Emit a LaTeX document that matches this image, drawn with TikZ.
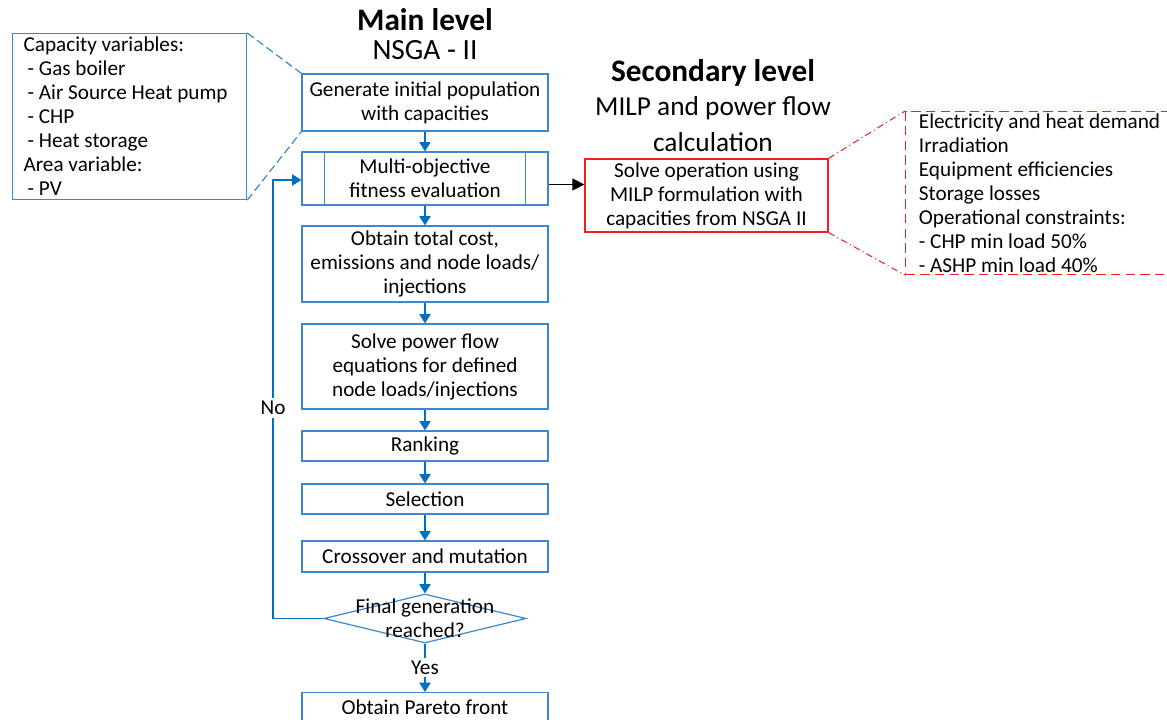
\documentclass[tikz,border=0pt]{standalone}
\usepackage{fontspec}
\setmainfont{Carlito}
\usetikzlibrary{shapes.geometric,arrows.meta}
\definecolor{boxblue}{RGB}{60,135,205}
\definecolor{flowblue}{RGB}{0,112,192}
\definecolor{solvered}{RGB}{240,30,30}
\newcommand{\boxfont}{\fontsize{15.9}{18}\selectfont}

\tikzset{
	box/.style={draw=boxblue, line width=0.9pt, minimum width=184.5pt, align=center, inner sep=2pt, font=\boxfont},
	decision/.style={diamond, draw=boxblue, line width=0.9pt, minimum width=151.5pt, minimum height=36.75pt, inner sep=0pt},
	note/.style={draw=boxblue, line width=0.9pt, minimum width=175.5pt, minimum height=124.5pt, text width=159pt, inner xsep=8pt, inner ysep=2pt, align=flush left, font=\boxfont},
	solve/.style={draw=solvered, line width=0.9pt, minimum width=182.25pt, minimum height=54.75pt, align=center, inner sep=2pt, font=\boxfont},
	inputs/.style={draw=solvered, dash pattern=on 7pt off 4pt, line width=0.9pt, minimum width=225pt, minimum height=122.25pt, text width=205pt, inner xsep=5.5pt, inner ysep=1pt, align=flush left, font=\boxfont},
	title/.style={font=\fontsize{23.5}{26}\selectfont\bfseries, inner sep=0pt},
	sub/.style={font=\fontsize{20.5}{27}\selectfont, align=center, inner sep=0pt},
	flow/.style={draw=flowblue, line width=0.9pt, -{Triangle[width=8.5pt,length=7pt]}},
	link/.style={draw=black, line width=0.9pt, -{Triangle[width=9pt,length=9pt]}},
	lbl/.style={fill=white, inner sep=2pt, font=\boxfont},
}

\begin{document}
\begin{tikzpicture}[x=0.75pt, y=-0.75pt]
		%%%%% START %%%%%
		\useasboundingbox (0,0) rectangle (1167,720);
		\clip (0,0) rectangle (1167,720);
		
		% main level
		\node[title] (mainlvl) at (425,20) {Main level};
		\node[sub, font=\fontsize{22}{27}\selectfont] (nsga) at (425,50) {NSGA - II};
		
		\node[box, minimum height=42.75pt] (init) at (425,102.5) {Generate initial population\\with capacities};
		\node[box, minimum height=39.75pt] (fit) at (425,178.5) {Multi-objective\\fitness evaluation};
		\draw[draw=boxblue, line width=0.9pt] ([xshift=17.25pt]fit.north west) -- ([xshift=17.25pt]fit.south west);
		\draw[draw=boxblue, line width=0.9pt] ([xshift=-17.25pt]fit.north east) -- ([xshift=-17.25pt]fit.south east);
		\node[box, minimum height=57pt] (cost) at (425,264) {Obtain total cost,\\emissions and node loads/\\injections};
		\node[box, minimum height=63.75pt] (pf) at (425,366.5) {Solve power flow\\equations for defined\\node loads/injections};
		\node[box, minimum height=22.5pt] (rank) at (425,446) {Ranking};
		\node[box, minimum height=22.5pt] (sel) at (425,499) {Selection};
		\node[box, minimum height=23.25pt] (cross) at (425,556.5) {Crossover and mutation};
		\node[decision] (final) at (425,618.5) {};
		\node[font=\boxfont, align=center, inner sep=0pt] (finaltxt) at (final) {Final generation\\reached?};
		\node[box, minimum height=22.5pt, anchor=north] (pareto) at (425,692) {Obtain Pareto front};
		\coordinate (back) at (273,180);
		
		% decision variables
		\node[note, anchor=north west] (caps) at (12,33) {Capacity variables:\\
			\hspace*{3pt}- Gas boiler\\
			\hspace*{3pt}- Air Source Heat pump\\
			\hspace*{3pt}- CHP\\
			\hspace*{3pt}- Heat storage\\
			Area variable:\\
			\hspace*{3pt}- PV};
		\draw[boxblue, line width=0.9pt, dash pattern=on 6pt off 3pt] (caps.north east) -- (init.north west);
		\draw[boxblue, line width=0.9pt, dash pattern=on 6pt off 3pt] (caps.south east) -- (init.south west);
		
		% secondary level
		\node[title] (seclvl) at (713,73) {Secondary level};
		\node[sub] (milpsub) at (713,124) {MILP and power flow\\calculation};
		\node[solve] (milp) at (706.5,195.5) {Solve operation using\\MILP formulation with\\capacities from NSGA II};
		\node[inputs, anchor=north west] (data) at (905,111) {Electricity and heat demand\\
			Irradiation\\
			Equipment efficiencies\\
			Storage losses\\
			Operational constraints:\\
			- CHP min load 50\%\\
			- ASHP min load 40\%};
		\draw[solvered, line width=0.75pt, dash pattern=on 5pt off 2.5pt on 0.8pt off 2.5pt] (milp.north east) -- (data.north west);
		\draw[solvered, line width=0.75pt, dash pattern=on 5pt off 2.5pt on 0.8pt off 2.5pt] (milp.south east) -- (data.south west);
		
		% connectors
		\draw[flow] (init) -- (fit);
		\draw[flow] (fit) -- (cost);
		\draw[flow] (cost) -- (pf);
		\draw[flow] (pf) -- (rank);
		\draw[flow] (rank) -- (sel);
		\draw[flow] (sel) -- (cross);
		\draw[flow] (cross) -- (final);
		\draw[flow] (final) -- node[lbl] {Yes} (pareto);
		\draw[flow] (final.west) -| node[lbl, pos=0.74] {No} (back) -- (back -| fit.west);
		\draw[link] ([yshift=-4.5pt]fit.east) -- ([yshift=-4.5pt]fit.east -| milp.west);
		
		%%%%% END %%%%%
\end{tikzpicture}
\end{document}
